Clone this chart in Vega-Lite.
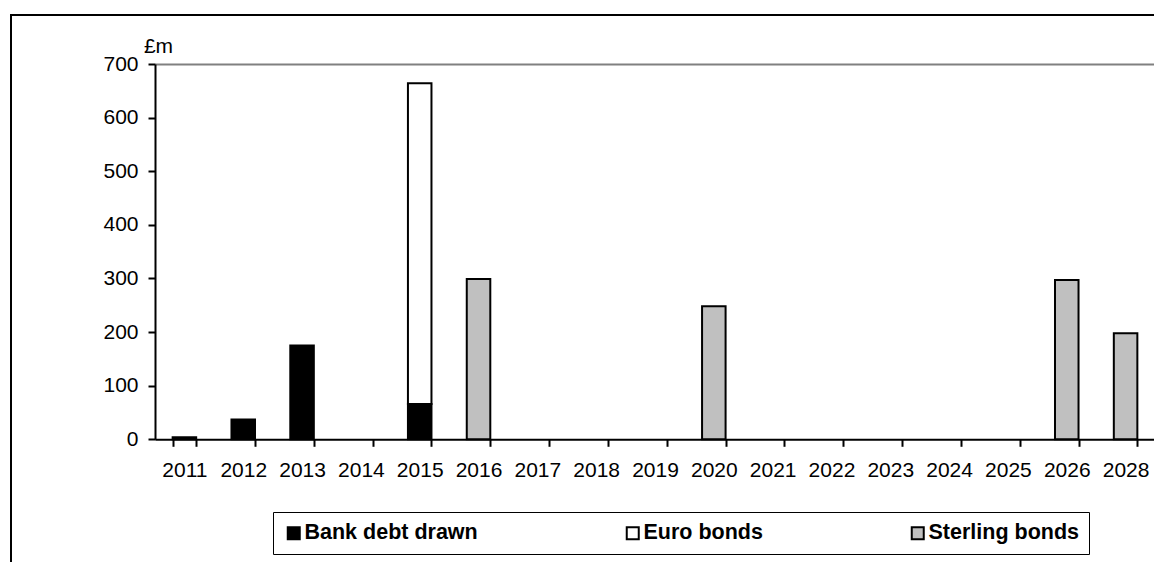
{
  "$schema": "https://vega.github.io/schema/vega-lite/v6.json",
  "width": 1147,
  "height": 551,
  "autosize": {"type": "none"},
  "padding": {"left": 11, "top": 15, "right": -4, "bottom": -4},
  "background": "white",
  "config": {"view": {"stroke": "black", "strokeWidth": 2}, "font": "Liberation Sans"},
  "data": {
    "values": [
      {"year": "2011", "series": "Bank debt drawn", "value": 4},
      {"year": "2012", "series": "Bank debt drawn", "value": 37},
      {"year": "2013", "series": "Bank debt drawn", "value": 175},
      {"year": "2015", "series": "Bank debt drawn", "value": 66},
      {"year": "2015", "series": "Euro bonds", "value": 598},
      {"year": "2016", "series": "Sterling bonds", "value": 299},
      {"year": "2020", "series": "Sterling bonds", "value": 248},
      {"year": "2026", "series": "Sterling bonds", "value": 297},
      {"year": "2028", "series": "Sterling bonds", "value": 198}
    ]
  },
  "layer": [
    {
      "mark": {"type": "bar", "stroke": "black", "strokeWidth": 2},
      "encoding": {
        "x": {
          "field": "year",
          "type": "nominal",
          "scale": {
            "domain": ["2011","2012","2013","2014","2015","2016","2017","2018","2019","2020","2021","2022","2023","2024","2025","2026","2028"],
            "range": [144, 1144],
            "paddingInner": 0.6,
            "paddingOuter": 0.3
          },
          "axis": {
            "orient": "bottom",
            "offset": -126.7,
            "title": null,
            "labelAngle": 0,
            "labelFontSize": 21,
            "labelColor": "black",
            "labelPadding": 13,
            "tickBand": "extent",
            "tickSize": 7,
            "tickWidth": 2,
            "tickColor": "black",
            "domainColor": "black",
            "domainWidth": 2,
            "grid": false
          }
        },
        "y": {
          "field": "value",
          "type": "quantitative",
          "stack": "zero",
          "title": "£m",
          "scale": {"domain": [0, 700], "range": [424.3, 49], "nice": false, "zero": true},
          "axis": {
            "offset": -144,
            "values": [0, 100, 200, 300, 400, 500, 600, 700],
            "grid": false,
            "title": "£m",
            "titleAngle": 0,
            "titleX": 3,
            "titleY": 37,
            "titleAlign": "center",
            "titleBaseline": "alphabetic",
            "titleFontSize": 21,
            "titleFontWeight": "normal",
            "titleColor": "black",
            "labelFontSize": 21,
            "labelColor": "black",
            "labelPadding": 10,
            "tickSize": 7,
            "tickWidth": 2,
            "tickColor": "black",
            "domainColor": "black",
            "domainWidth": 2
          }
        },
        "order": {"field": "series", "type": "ordinal", "sort": "ascending"},
        "color": {
          "field": "series",
          "type": "nominal",
          "scale": {
            "domain": ["Bank debt drawn", "Euro bonds", "Sterling bonds"],
            "range": ["#000000", "#ffffff", "#c0c0c0"]
          },
          "legend": {
            "orient": "none",
            "legendX": 262,
            "legendY": 497,
            "direction": "horizontal",
            "title": null,
            "strokeColor": "black",
            "padding": 10,
            "columnPadding": 144,
            "symbolType": "square",
            "symbolSize": 144,
            "symbolStrokeColor": "black",
            "symbolStrokeWidth": 2,
            "labelFont": "Liberation Sans",
            "labelFontWeight": "bold",
            "labelFontSize": 21.5,
            "labelColor": "black",
            "labelOffset": 0,
            "labelLimit": 400
          }
        }
      }
    },
    {
      "mark": {"type": "point", "opacity": 0},
      "encoding": {
        "x": {
          "field": "year",
          "type": "nominal",
          "axis": {
            "orient": "top",
            "offset": -49,
            "labels": false,
            "ticks": false,
            "title": null,
            "domainColor": "#808080",
            "domainWidth": 2,
            "grid": false
          }
        },
        "y": {"field": "value", "type": "quantitative", "title": "£m"}
      }
    }
  ],
  "resolve": {"axis": {"x": "independent"}}
}
